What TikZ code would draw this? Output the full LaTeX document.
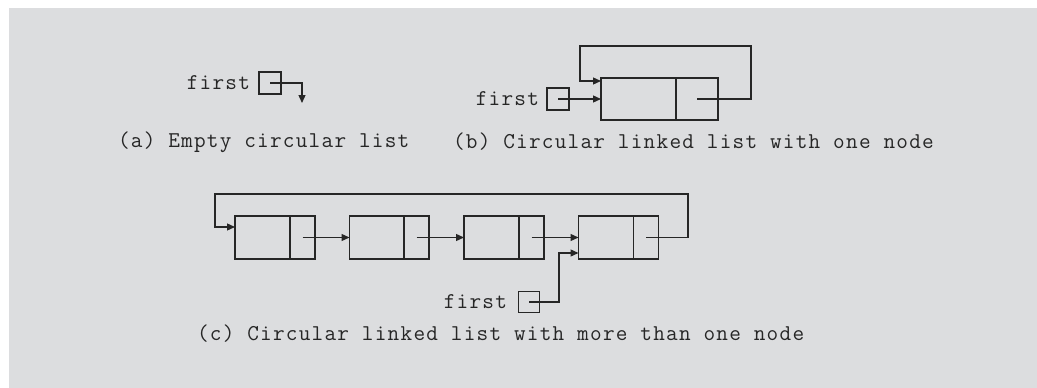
\documentclass[tikz,border=0pt]{standalone}
\usepackage{fontspec}
\newfontfamily\courfont{Latin Modern Mono}[LetterSpace=5.5]
\usetikzlibrary{arrows.meta}
\definecolor{bgc}{RGB}{220,221,223}
\definecolor{ink}{RGB}{38,38,38}
\tikzset{
  lbl/.style={font=\courfont\fontsize{22.6}{26}\selectfont, text=ink, inner sep=0pt, outer sep=0pt},
  cell/.style={draw=ink, line width=1.3pt, inner sep=0pt, outer sep=0pt},
  pbox/.style={cell, minimum width=22pt, minimum height=22pt},
  dcb/.style={cell, minimum width=75pt, minimum height=42pt},
  pcb/.style={cell, minimum width=42pt, minimum height=42pt},
  dcc/.style={cell, minimum width=55pt, minimum height=43pt},
  pcc/.style={cell, minimum width=25pt, minimum height=43pt},
  arr/.style={draw=ink, line width=1.3pt, -{Triangle[length=8pt,width=7pt]}},
}
\begin{document}
\begin{tikzpicture}[x=1pt,y=-1pt]
\useasboundingbox (0,0) rectangle (1037,388);
\fill[bgc] (9,8) rectangle (1037,388);

% (a)
\node[lbl, anchor=east] (ta) at (250,83) {first};
\node[pbox] (fa) at (270,83) {};
\coordinate (anull) at (302,103);
\draw[arr] (fa.center) -| (anull);
\node[lbl, anchor=west] (capa) at (118,142) {(a) Empty circular list};

% (b)
\node[lbl, anchor=east] (tb) at (539,99) {first};
\node[pbox] (fb) at (558,99) {};
\node[dcb] (bd) at (638.5,99) {};
\node[pcb] (bp) at (697,99) {};
\coordinate (btr) at (751,46);
\coordinate (btl) at (580,46);
\draw[arr] (fb.center) -- (bd.west);
\draw[arr] (bp.center) -| (btr) -- (btl) |- ([yshift=18pt]bd.west);
\node[lbl, anchor=west] (capb) at (453,142) {(b) Circular linked list with one node};

% (c)
\node[dcc] (c1d) at (262.5,237.5) {};
\node[pcc] (c1p) at (302.5,237.5) {};
\node[dcc] (c2d) at (377,237.5) {};
\node[pcc] (c2p) at (416.5,237.5) {};
\node[dcc] (c3d) at (491.5,237.5) {};
\node[pcc] (c3p) at (531.5,237.5) {};
\node[dcc] (c4d) at (606,237.5) {};
\node[pcc] (c4p) at (646,237.5) {};
\draw[arr] (c1p.center) -- (c2d.west);
\draw[arr] (c2p.center) -- (c3d.west);
\draw[arr] (c3p.center) -- (c4d.west);
\coordinate (ctr) at (688,194);
\coordinate (ctl) at (215,194);
\draw[arr] (c4p.center) -| (ctr) -- (ctl) |- ([yshift=10.5pt]c1d.west);
\node[lbl, anchor=east] (tc) at (507,302) {first};
\node[pbox, minimum width=21pt, minimum height=21pt] (fc) at (529,302) {};
\coordinate (cbend) at (559,302);
\draw[arr] (fc.center) -- (cbend) |- ([yshift=-15.5pt]c4d.west);
\node[lbl, anchor=west] (capc) at (197,334) {(c) Circular linked list with more than one node};
\end{tikzpicture}
\end{document}
